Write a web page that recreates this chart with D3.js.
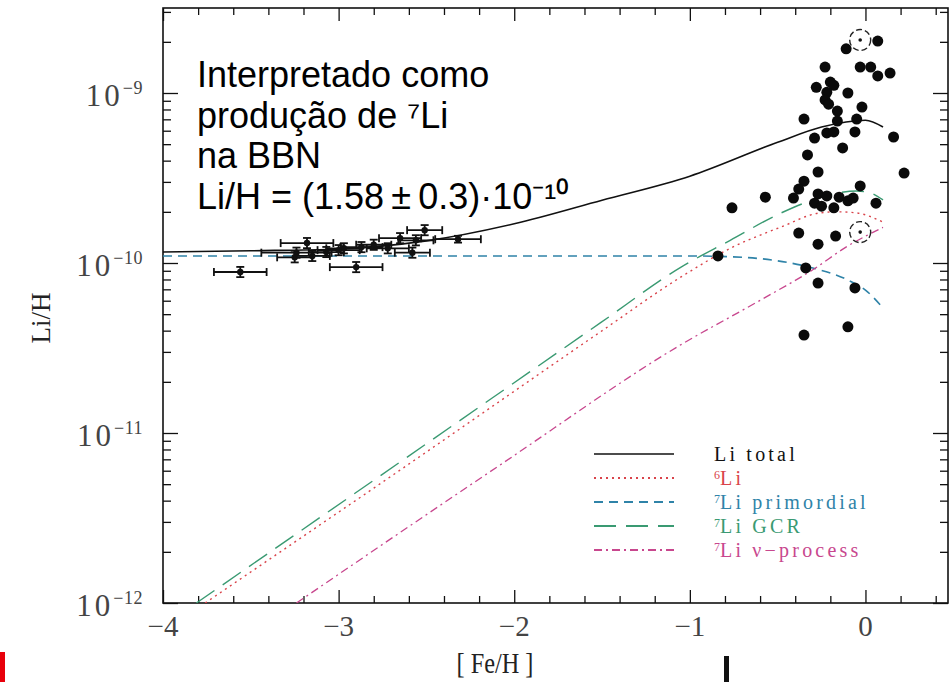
<!DOCTYPE html>
<html>
<head>
<meta charset="utf-8">
<script src="https://cdn.jsdelivr.net/npm/d3@7"></script>
<style>
  body { margin: 0; background: #fff; }
  svg { display: block; }
  .frame { fill: none; stroke: #111; stroke-width: 1.6; }
  .axis path { display: none; }
  .axis line { stroke: #111; stroke-width: 1.3; }
  .tick-label { font-family: 'Liberation Serif', serif; fill: #444; }
  .legend-label { font-family: 'Liberation Serif', serif; font-size: 20px; letter-spacing: 3.2px; }
  .note { font-family: 'Liberation Sans', Arial, sans-serif; font-size: 36px; fill: #000; }
</style>
</head>
<body>
<div id="vis"></div>
<script>

// size of the page and of the plot frame
var width = 952;
var height = 682;
var margin = { top: 8, left: 163, bottom: 79, right: 4 };

// x ticks ([Fe/H]) and y ticks (Li/H decades)
var xMajorTicks = [-4, -3, -2, -1, 0];
var xTickLabels = ['\u22124', '\u22123', '\u22122', '\u22121', '0'];
var yDecades = [1e-12, 1e-11, 1e-10, 1e-9];
var yTickExps = ['\u221212', '\u221211', '\u221210', '\u22129'];

// model curves
var totalFe = [-4.0, -3.5, -3.0, -2.5, -2.0, -1.5, -1.0, -0.5, -0.25, 0.0, 0.1];
var totalLi = [1.16e-10, 1.18e-10, 1.21e-10, 1.35e-10, 1.70e-10, 2.34e-10, 3.24e-10, 5.13e-10, 6.31e-10, 6.92e-10, 6.31e-10];

var li6Fe = [-3.76, -2.65, -1.51, -1.05, -0.77, -0.48, -0.26, -0.16, -0.05, 0.1];
var li6Li = [1.0e-12, 6.05e-12, 3.93e-11, 8.28e-11, 1.22e-10, 1.63e-10, 1.97e-10, 2.0e-10, 1.97e-10, 1.74e-10];

var primFe = [-4.0, -1.0, -0.7, -0.5, -0.3, -0.1, 0.0, 0.1];
var primLi = [1.10e-10, 1.10e-10, 1.08e-10, 1.03e-10, 9.35e-11, 7.94e-11, 6.93e-11, 5.43e-11];

var gcrFe = [-3.81, -2.65, -1.51, -1.05, -0.77, -0.48, -0.30, -0.16, -0.05, 0.03, 0.1];
var gcrLi = [1.0e-12, 6.75e-12, 4.44e-11, 9.46e-11, 1.36e-10, 1.97e-10, 2.35e-10, 2.58e-10, 2.65e-10, 2.58e-10, 2.35e-10];

var nuFe = [-3.24, -2.08, -1.05, -0.6, -0.3, -0.1, 0.1];
var nuLi = [1.0e-12, 6.49e-12, 3.31e-11, 6.03e-11, 9.12e-11, 1.26e-10, 1.62e-10];

// halo stars with error bars (Fe/H error, Li error in dex)
var haloFe = [-3.56, -2.90, -2.32, -2.51, -3.18, -3.24, -3.25, -3.15, -3.07, -3.00, -2.97, -2.87, -2.80, -2.72, -2.65, -2.58, -2.56];
var haloLi = [8.85e-11, 9.46e-11, 1.38e-10, 1.56e-10, 1.31e-10, 1.15e-10, 1.08e-10, 1.10e-10, 1.16e-10, 1.19e-10, 1.22e-10, 1.24e-10, 1.28e-10, 1.22e-10, 1.40e-10, 1.15e-10, 1.36e-10];
var haloFeErr = [0.15, 0.15, 0.13, 0.10, 0.15, 0.20, 0.10, 0.10, 0.10, 0.12, 0.10, 0.12, 0.10, 0.12, 0.12, 0.10, 0.10];
var haloLiErr = [0.03, 0.03, 0.02, 0.03, 0.03, 0.03, 0.03, 0.03, 0.03, 0.03, 0.03, 0.03, 0.03, 0.03, 0.03, 0.03, 0.03];

// disk stars (filled dots)
var diskFe = [0.07, -0.11, -0.23, -0.03, 0.03, 0.07, 0.14, -0.20, -0.18, -0.28, -0.22, -0.10, -0.23, -0.21, -0.02, -0.16,
  -0.35, -0.16, -0.05, -0.22, -0.18, -0.06, -0.29, 0.16, -0.13, -0.33, -0.27, 0.22, -0.35, -0.03, -0.38, -0.57,
  -0.41, -0.27, -0.22, -0.15, -0.10, -0.07, -0.29, -0.25, -0.18, 0.06, -0.76, -0.38, -0.17, -0.27, -0.84, -0.34,
  -0.27, -0.06, -0.10, -0.35];
var diskLi = [2.02e-9, 1.82e-9, 1.42e-9, 1.42e-9, 1.42e-9, 1.26e-9, 1.31e-9, 1.16e-9, 1.11e-9, 1.08e-9, 1.01e-9, 1.0e-9, 9.1e-10, 8.6e-10, 8.27e-10, 7.83e-10,
  7.03e-10, 6.84e-10, 7.03e-10, 5.82e-10, 5.90e-10, 5.90e-10, 5.43e-10, 5.51e-10, 4.75e-10, 4.32e-10, 3.43e-10, 3.38e-10, 3.03e-10, 2.84e-10, 2.72e-10, 2.44e-10,
  2.41e-10, 2.55e-10, 2.48e-10, 2.44e-10, 2.32e-10, 2.41e-10, 2.25e-10, 2.16e-10, 2.11e-10, 2.25e-10, 2.11e-10, 1.50e-10, 1.44e-10, 1.29e-10, 1.10e-10, 9.35e-11,
  7.62e-11, 7.13e-11, 4.21e-11, 3.77e-11];

// the two circled stars
var circledFe = [-0.03, -0.03];
var circledLi = [2.05e-9, 1.52e-10];

// legend
var legendNames = ['Li total', '6Li', '7Li primordial', '7Li GCR', '7Li \u03bd\u2212process'];
var legendColors = ['#111', '#d9434a', '#2f83a8', '#3a9a72', '#c8478e'];
var legendDashes = [null, '2,4', '9,6', '22,10', '8,4,2,4'];

var svg = d3.select('#vis').append('svg')
  .attr('width', width)
  .attr('height', height);

// scales
var x = d3.scaleLinear()
  .domain([-4, 0.47])
  .range([margin.left, width - margin.right]);

var y = d3.scaleLog()
  .domain([1e-12, Math.pow(10, -8.5)])
  .range([height - margin.bottom, margin.top]);

var plotW = x.range()[1] - x.range()[0];
var plotH = y.range()[0] - y.range()[1];

svg.append('clipPath').attr('id', 'clip')
  .append('rect')
  .attr('x', margin.left).attr('y', margin.top)
  .attr('width', plotW).attr('height', plotH);

// ticks: minor every 0.2 on x, 2..9 per decade on y
var xMinor = d3.range(-4, 0.47, 0.2).filter(function(v) {
  return Math.abs(v - Math.round(v)) > 0.01;
});
var yMinor = [];
yDecades.forEach(function(d) {
  for (var k = 2; k <= 9; k++) {
    if (d * k <= y.domain()[1]) yMinor.push(d * k);
  }
});
var yMajor = yDecades.slice();

function addAxis(axisFn, scale, values, size, transform) {
  svg.append('g')
    .attr('class', 'axis')
    .attr('transform', transform)
    .call(axisFn(scale).tickValues(values).tickSize(size).tickFormat(''));
}

var bottomY = y.range()[0];
var topY = y.range()[1];
var leftX = x.range()[0];
var rightX = x.range()[1];

addAxis(d3.axisBottom, x, xMajorTicks, -13, 'translate(0,' + bottomY + ')');
addAxis(d3.axisBottom, x, xMinor, -7, 'translate(0,' + bottomY + ')');
addAxis(d3.axisTop, x, xMajorTicks, -13, 'translate(0,' + topY + ')');
addAxis(d3.axisTop, x, xMinor, -7, 'translate(0,' + topY + ')');
addAxis(d3.axisLeft, y, yMajor, -15, 'translate(' + leftX + ',0)');
addAxis(d3.axisLeft, y, yMinor, -8, 'translate(' + leftX + ',0)');
addAxis(d3.axisRight, y, yMajor, -15, 'translate(' + rightX + ',0)');
addAxis(d3.axisRight, y, yMinor, -8, 'translate(' + rightX + ',0)');

svg.append('rect')
  .attr('class', 'frame')
  .attr('x', leftX).attr('y', topY)
  .attr('width', plotW).attr('height', plotH);

// tick labels
svg.selectAll('.xlab')
  .data(xMajorTicks)
  .enter().append('text')
  .attr('class', 'tick-label xlab')
  .attr('x', function(d) { return x(d); })
  .attr('y', bottomY + 33)
  .attr('text-anchor', 'middle')
  .style('font-size', '29px')
  .text(function(d, i) { return xTickLabels[i]; });

var ylab = svg.selectAll('.ylab')
  .data(yDecades)
  .enter().append('text')
  .attr('class', 'tick-label ylab')
  .attr('x', 143)
  .attr('y', function(d) { return y(d) + 13; })
  .attr('text-anchor', 'end');
ylab.append('tspan')
  .style('font-size', '31px')
  .style('letter-spacing', '3px')
  .text('10');
ylab.append('tspan')
  .attr('dy', -12)
  .style('font-size', '18px')
  .style('letter-spacing', '0.5px')
  .text(function(d, i) { return yTickExps[i]; });

// axis titles
svg.append('text')
  .attr('class', 'tick-label')
  .attr('transform', 'translate(50,318) rotate(-90)')
  .attr('text-anchor', 'middle')
  .style('font-size', '27px')
  .style('fill', '#222')
  .text('Li/H');

svg.append('text')
  .attr('class', 'tick-label')
  .attr('transform', 'translate(495,673) scale(0.9,1.08)')
  .attr('text-anchor', 'middle')
  .style('font-size', '27px')
  .style('fill', '#222')
  .text('[ Fe/H ]');

// model curves
var line = d3.line()
  .x(function(d) { return x(d[0]); })
  .y(function(d) { return y(d[1]); })
  .curve(d3.curveMonotoneX);

function addCurve(fe, li, color, dash, w) {
  svg.append('path')
    .datum(d3.zip(fe, li))
    .attr('clip-path', 'url(#clip)')
    .attr('d', line)
    .attr('fill', 'none')
    .attr('stroke', color)
    .attr('stroke-width', w)
    .attr('stroke-dasharray', dash);
}

addCurve(primFe, primLi, legendColors[2], legendDashes[2], 1.6);
addCurve(gcrFe, gcrLi, legendColors[3], legendDashes[3], 1.4);
addCurve(li6Fe, li6Li, legendColors[1], legendDashes[1], 1.4);
addCurve(nuFe, nuLi, legendColors[4], legendDashes[4], 1.3);
addCurve(totalFe, totalLi, legendColors[0], legendDashes[0], 1.6);

// halo stars with error bars
var halo = svg.append('g').attr('class', 'halo');
haloFe.forEach(function(fe, i) {
  var cx = x(fe), cy = y(haloLi[i]);
  var x0 = x(fe - haloFeErr[i]), x1 = x(fe + haloFeErr[i]);
  var y0 = y(haloLi[i] * Math.pow(10, -haloLiErr[i]));
  var y1 = y(haloLi[i] * Math.pow(10, haloLiErr[i]));
  halo.append('line').attr('x1', x0).attr('x2', x1).attr('y1', cy).attr('y2', cy);
  halo.append('line').attr('x1', x0).attr('x2', x0).attr('y1', cy - 4).attr('y2', cy + 4);
  halo.append('line').attr('x1', x1).attr('x2', x1).attr('y1', cy - 4).attr('y2', cy + 4);
  halo.append('line').attr('x1', cx).attr('x2', cx).attr('y1', y0).attr('y2', y1);
  halo.append('line').attr('x1', cx - 4).attr('x2', cx + 4).attr('y1', y0).attr('y2', y0);
  halo.append('line').attr('x1', cx - 4).attr('x2', cx + 4).attr('y1', y1).attr('y2', y1);
  halo.append('circle').attr('cx', cx).attr('cy', cy).attr('r', 3.2).attr('fill', '#111');
});
halo.selectAll('line').attr('stroke', '#111').attr('stroke-width', 1.8);

// disk stars
svg.selectAll('.disk')
  .data(d3.zip(diskFe, diskLi))
  .enter().append('circle')
  .attr('class', 'disk')
  .attr('cx', function(d) { return x(d[0]); })
  .attr('cy', function(d) { return y(d[1]); })
  .attr('r', 5.5)
  .attr('fill', '#0a0a0a');

// circled stars
var circ = svg.selectAll('.circled')
  .data(d3.zip(circledFe, circledLi))
  .enter().append('g')
  .attr('class', 'circled')
  .attr('transform', function(d) { return 'translate(' + x(d[0]) + ',' + y(d[1]) + ')'; });
circ.append('circle').attr('r', 10.5)
  .attr('fill', 'none').attr('stroke', '#222')
  .attr('stroke-width', 1.4).attr('stroke-dasharray', '6,3');
circ.append('circle').attr('r', 1.8).attr('fill', '#111');

// legend
var legend = svg.append('g').attr('class', 'legend');
var rowY = [454, 478, 502, 526, 550];
legendNames.forEach(function(name, i) {
  legend.append('line')
    .attr('x1', 594).attr('x2', 674)
    .attr('y1', rowY[i]).attr('y2', rowY[i])
    .attr('stroke', legendColors[i])
    .attr('stroke-width', i === 0 ? 1.6 : 1.8)
    .attr('stroke-dasharray', legendDashes[i]);
  var t = legend.append('text')
    .attr('class', 'legend-label')
    .attr('x', 714)
    .attr('y', rowY[i] + 7)
    .style('fill', legendColors[i]);
  if (i === 0) {
    t.text(name);
  } else {
    t.append('tspan').attr('dy', -6).style('font-size', '12px').style('letter-spacing', '0px').text(name.charAt(0));
    t.append('tspan').attr('dy', 6).text(name.slice(1));
  }
});

// annotation
var noteLines = ['Interpretado como', 'produ\u00e7\u00e3o de \u2077Li', 'na BBN', 'Li/H = (1.58\u2009\u00b1\u20090.3)\u00b710\u207b\u00b9\u2070'];
svg.selectAll('.note')
  .data(noteLines)
  .enter().append('text')
  .attr('class', 'note')
  .attr('x', 197)
  .attr('y', function(d, i) { return 87 + i * 40.7; })
  .text(function(d) { return d; });

// stray marks below the chart
svg.append('rect').attr('x', 0).attr('y', 652).attr('width', 5).attr('height', 30).attr('fill', '#e8000b');
svg.append('rect').attr('x', 724).attr('y', 656).attr('width', 5).attr('height', 26).attr('fill', '#111');

</script>
</body>
</html>
